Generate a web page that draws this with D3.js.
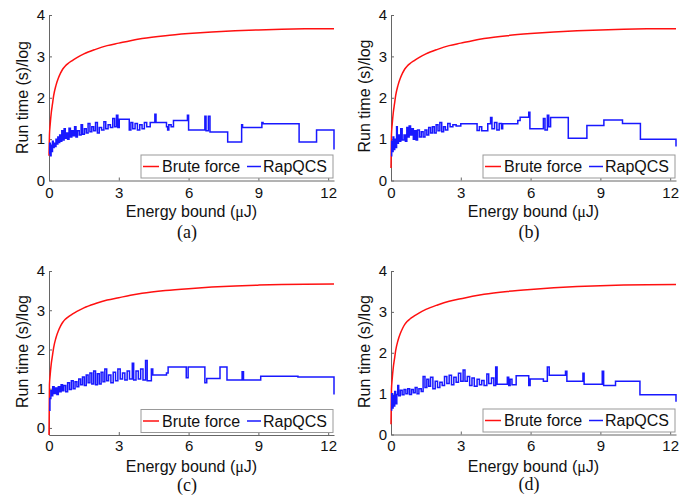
<!DOCTYPE html>
<html>
<head>
<meta charset="utf-8">
<script src="https://cdn.jsdelivr.net/npm/d3@7"></script>
<style>
    body { margin: 0; background: #fff; }
    svg { display: block; }
    .axis path, .axis line { stroke: #666; }
    .axis text { fill: #111; }
</style>
</head>
<body>
<div id="chart"></div>
<script>
// axis ticks / limits
const xTicks = [0, 3, 6, 9, 12]
const yTicks = [0, 1, 2, 3, 4]
const xMax = 12.25
const yMax = 4
const yMins = [0, 0, -0.18, 0]
const panelLabels = ["(a)", "(b)", "(c)", "(d)"]
const seriesNames = ["Brute force", "RapQCS"]

// Brute force curve (same in all panels except where it starts)
const bruteX = [0, 0.02, 0.05, 0.1, 0.15, 0.2, 0.3, 0.4, 0.5, 0.6, 0.7, 0.8, 1.0, 1.2, 1.5, 2, 2.5, 3, 3.5, 4, 5, 6, 7, 8, 9, 10, 11, 12.25]
const bruteY = [1.1, 1.35, 1.65, 1.85, 2.05, 2.3, 2.47, 2.6, 2.7, 2.77, 2.82, 2.9, 2.97, 3.06, 3.17, 3.26, 3.32, 3.38, 3.43, 3.5, 3.55, 3.59, 3.62, 3.64, 3.655, 3.665, 3.67]
const bruteStart = [0.6, 0.3, -0.18, 0.25]

// RapQCS step curves, [energy bound, run time]
const rapA = [
    [0, 0.65], [0.03, 0.9], [0.06, 0.6], [0.09, 0.85], [0.12, 0.7], [0.15, 0.95], [0.18, 0.8], [0.22, 0.9],
    [0.26, 0.82], [0.3, 1.0], [0.34, 0.88], [0.38, 1.05], [0.42, 0.92], [0.46, 1.1], [0.5, 0.95], [0.55, 1.2],
    [0.6, 0.98], [0.65, 1.25], [0.7, 1.02], [0.75, 1.15], [0.8, 1.0], [0.86, 1.26], [0.92, 1.05], [0.98, 1.2],
    [1.04, 1.08], [1.1, 1.3], [1.16, 1.05], [1.22, 1.2], [1.3, 1.1], [1.38, 1.35], [1.44, 1.12], [1.52, 1.25],
    [1.6, 1.15], [1.68, 1.38], [1.76, 1.18], [1.84, 1.3], [1.92, 1.2], [2.0, 1.4], [2.08, 1.15], [2.16, 1.28],
    [2.26, 1.22], [2.36, 1.42], [2.44, 1.25], [2.54, 1.35], [2.64, 1.28], [2.74, 1.5], [2.82, 1.3], [2.9, 1.58],
    [2.96, 1.28], [3.02, 1.48], [3.45, 1.22], [3.52, 1.4], [3.6, 1.25], [3.7, 1.38], [3.8, 1.22], [3.9, 1.35],
    [4.0, 1.25], [4.1, 1.4], [4.2, 1.3], [4.35, 1.4], [4.55, 1.6], [4.6, 1.4], [5.05, 1.3], [5.1, 1.22],
    [5.15, 1.35], [5.25, 1.3], [5.35, 1.45], [5.95, 1.58], [6.0, 1.22], [6.7, 1.55], [6.75, 1.2], [6.85, 1.55],
    [6.92, 1.17], [7.68, 0.93], [8.28, 1.35], [8.32, 1.28], [9.15, 1.4], [9.2, 1.37], [10.75, 0.93], [11.5, 1.22],
    [12.25, 0.75]
]
const rapB = [
    [0, 0.6], [0.03, 0.95], [0.06, 0.7], [0.09, 1.05], [0.12, 0.75], [0.16, 1.0], [0.2, 0.8], [0.24, 1.3],
    [0.27, 0.9], [0.32, 1.1], [0.38, 0.95], [0.42, 1.25], [0.48, 0.98], [0.56, 1.1], [0.62, 0.95], [0.68, 1.28],
    [0.72, 1.05], [0.78, 1.32], [0.84, 1.1], [0.9, 1.25], [0.96, 1.0], [1.02, 1.2], [1.08, 0.98], [1.14, 1.22],
    [1.22, 1.05], [1.3, 1.18], [1.38, 1.05], [1.46, 1.22], [1.54, 1.1], [1.62, 1.28], [1.7, 1.15], [1.78, 1.3],
    [1.86, 1.15], [1.94, 1.35], [2.02, 1.2], [2.1, 1.4], [2.18, 1.18], [2.26, 1.3], [2.34, 1.22], [2.44, 1.38],
    [2.54, 1.3], [2.66, 1.35], [2.8, 1.32], [3.0, 1.37], [3.7, 1.21], [3.8, 1.3], [3.9, 1.2], [4.16, 1.37],
    [4.28, 1.52], [4.34, 1.25], [4.45, 1.4], [4.55, 1.22], [4.65, 1.38], [4.75, 1.25], [4.8, 1.37], [5.45, 1.45],
    [5.55, 1.53], [5.92, 1.65], [5.97, 1.25], [6.55, 1.5], [6.62, 1.22], [6.72, 1.58], [6.78, 1.3], [6.86, 1.52],
    [7.62, 1.02], [8.42, 1.33], [9.15, 1.46], [9.95, 1.38], [10.72, 1.0], [12.25, 0.82]
]
const rapC = [
    [0, 0.45], [0.04, 0.75], [0.08, 0.95], [0.12, 0.82], [0.16, 1.05], [0.22, 0.88], [0.28, 1.02], [0.34, 0.85],
    [0.4, 1.05], [0.46, 0.92], [0.52, 1.1], [0.58, 0.95], [0.64, 1.08], [0.72, 0.92], [0.8, 1.15], [0.88, 0.98],
    [0.96, 1.2], [1.04, 1.0], [1.12, 1.18], [1.2, 1.05], [1.28, 1.25], [1.36, 1.1], [1.44, 1.3], [1.52, 1.08],
    [1.6, 1.35], [1.68, 1.15], [1.76, 1.4], [1.84, 1.12], [1.92, 1.45], [2.0, 1.1], [2.08, 1.38], [2.16, 1.12],
    [2.24, 1.42], [2.32, 1.18], [2.4, 1.5], [2.48, 1.2], [2.56, 1.35], [2.66, 1.15], [2.76, 1.42], [2.86, 1.2],
    [2.96, 1.5], [3.06, 1.25], [3.16, 1.4], [3.26, 1.22], [3.36, 1.45], [3.46, 1.25], [3.58, 1.65], [3.64, 1.22],
    [3.74, 1.45], [3.84, 1.25], [3.94, 1.5], [4.04, 1.22], [4.15, 1.72], [4.22, 1.2], [4.4, 1.5], [4.46, 1.35],
    [5.05, 1.4], [5.12, 1.55], [5.9, 1.28], [5.98, 1.55], [6.7, 1.15], [6.78, 1.26], [7.35, 1.55], [7.65, 1.22],
    [8.3, 1.43], [8.36, 1.22], [9.1, 1.32], [10.7, 1.3], [12.25, 0.85]
]
const rapD = [
    [0, 0.6], [0.03, 1.0], [0.06, 0.65], [0.09, 0.95], [0.12, 0.7], [0.16, 1.05], [0.2, 0.75], [0.25, 0.98],
    [0.29, 1.2], [0.33, 0.95], [0.4, 1.08], [0.48, 0.97], [0.56, 1.1], [0.64, 1.0], [0.72, 1.12], [0.8, 0.98],
    [0.88, 1.1], [0.96, 1.02], [1.04, 1.15], [1.12, 1.0], [1.2, 1.12], [1.3, 1.05], [1.38, 1.42], [1.46, 1.15],
    [1.54, 1.35], [1.62, 1.18], [1.7, 1.4], [1.8, 1.12], [1.9, 1.3], [2.0, 1.15], [2.1, 1.28], [2.2, 1.2],
    [2.3, 1.42], [2.4, 1.25], [2.5, 1.45], [2.6, 1.22], [2.7, 1.4], [2.8, 1.28], [2.9, 1.5], [3.0, 1.3],
    [3.1, 1.58], [3.18, 1.3], [3.28, 1.42], [3.38, 1.2], [3.48, 1.38], [3.58, 1.18], [3.7, 1.35], [3.8, 1.22],
    [3.9, 1.32], [4.0, 1.2], [4.12, 1.48], [4.2, 1.25], [4.32, 1.38], [4.42, 1.2], [4.5, 1.65], [4.56, 1.23],
    [5.0, 1.4], [5.06, 1.2], [5.12, 1.35], [5.2, 1.22], [5.38, 1.44], [5.92, 1.2], [5.98, 1.36], [6.55, 1.3],
    [6.72, 1.65], [6.8, 1.45], [7.5, 1.55], [7.56, 1.3], [8.25, 1.5], [8.3, 1.23], [9.08, 1.55], [9.14, 1.2],
    [9.65, 1.3], [10.7, 0.97], [12.25, 0.8]
]
const rapSeries = [rapA, rapB, rapC, rapD]

const W = 698, H = 504
const font = "Arial, 'Liberation Sans', Helvetica, sans-serif"
const red = "#ff1010", blue = "#1818ff"

const layout = [
    { left: 49, right: 334, top: 15, bottom: 180.5, pad: 7, xlabY: 216.5, ylabX: 28, ylabY: 97.5, capY: 238 },
    { left: 391, right: 676, top: 15, bottom: 180.5, pad: 7, xlabY: 216.5, ylabX: 370, ylabY: 96, capY: 237.5 },
    { left: 49, right: 334, top: 271, bottom: 435, pad: 5.5, xlabY: 471.5, ylabX: 28, ylabY: 351.5, capY: 491 },
    { left: 391, right: 676, top: 271, bottom: 434.5, pad: 5.5, xlabY: 471.5, ylabX: 370, ylabY: 351.5, capY: 490 }
]

const svg = d3.select("#chart").append("svg")
    .attr("width", W)
    .attr("height", H)

layout.forEach(function (L, p) {
    const g = svg.append("g")

    const x = d3.scaleLinear().domain([0, xMax]).range([L.left, L.right])
    const y = d3.scaleLinear().domain([yMins[p], yMax]).range([L.bottom, L.top])

    // axes (MATLAB style ticks pointing in)
    g.append("g")
        .attr("class", "axis")
        .attr("transform", `translate(0,${L.bottom})`)
        .call(d3.axisBottom(x).tickValues(xTicks).tickFormat(d3.format("d"))
            .tickSizeInner(-3).tickSizeOuter(0).tickPadding(L.pad))
        .attr("font-size", 15).attr("font-family", font)

    g.append("g")
        .attr("class", "axis")
        .attr("transform", `translate(${L.left},0)`)
        .call(d3.axisLeft(y).tickValues(yTicks).tickFormat(d3.format("d"))
            .tickSizeInner(-3).tickSizeOuter(0).tickPadding(4))
        .attr("font-size", 15).attr("font-family", font)

    // lines
    const red_data = bruteX.map((d, i) => [d, i === 0 ? bruteStart[p] : bruteY[i - 1]])
    const redLine = d3.line()
        .x(d => x(d[0]))
        .y(d => y(d[1]))
        .curve(d3.curveMonotoneX)
    g.append("path")
        .datum(red_data)
        .attr("d", redLine)
        .attr("fill", "none")
        .attr("stroke", red)
        .attr("stroke-width", 1.5)

    const blueLine = d3.line()
        .x(d => x(d[0]))
        .y(d => y(d[1]))
        .curve(d3.curveStepAfter)
    g.append("path")
        .datum(rapSeries[p])
        .attr("d", blueLine)
        .attr("fill", "none")
        .attr("stroke", blue)
        .attr("stroke-width", 1.5)

    // axis titles
    g.append("text")
        .attr("x", (L.left + L.right) / 2)
        .attr("y", L.xlabY)
        .attr("text-anchor", "middle")
        .attr("font-family", font)
        .attr("font-size", 16)
        .attr("fill", "#111")
        .text("Energy bound (")
        .append("tspan").attr("font-family", "'Liberation Serif', 'Times New Roman', serif").text("\u03bc")
        .select(function () { return this.parentNode })
        .append("tspan").text("J)")

    g.append("text")
        .attr("transform", `translate(${L.ylabX},${L.ylabY}) rotate(-90)`)
        .attr("text-anchor", "middle")
        .attr("font-family", font)
        .attr("font-size", 16)
        .attr("fill", "#111")
        .text("Run time (s)/log")

    // caption
    g.append("text")
        .attr("x", (L.left + L.right) / 2 - 4.5)
        .attr("y", L.capY)
        .attr("text-anchor", "middle")
        .attr("font-family", "'Liberation Serif', 'Times New Roman', serif")
        .attr("font-size", 18)
        .attr("fill", "#111")
        .text(panelLabels[p])

    // legend, bottom right inside the axes
    const lw = 192, lh = 23
    const lx = L.right - lw - 1, ly = L.bottom - lh - 2.5
    const legend = g.append("g").attr("transform", `translate(${lx},${ly})`)
    legend.append("rect")
        .attr("width", lw).attr("height", lh)
        .attr("fill", "#fff").attr("stroke", "#999").attr("stroke-width", 1)
    const items = [
        { name: seriesNames[0], color: red, x0: 2, x1: 18, tx: 21 },
        { name: seriesNames[1], color: blue, x0: 106, x1: 120, tx: 122 }
    ]
    items.forEach(function (it) {
        legend.append("line")
            .attr("x1", it.x0).attr("x2", it.x1)
            .attr("y1", 11.5).attr("y2", 11.5)
            .attr("stroke", it.color).attr("stroke-width", 1.5)
        legend.append("text")
            .attr("x", it.tx).attr("y", 17)
            .attr("font-family", font)
            .attr("font-size", 16)
            .attr("fill", "#111")
            .text(it.name)
    })
})
</script>
</body>
</html>
